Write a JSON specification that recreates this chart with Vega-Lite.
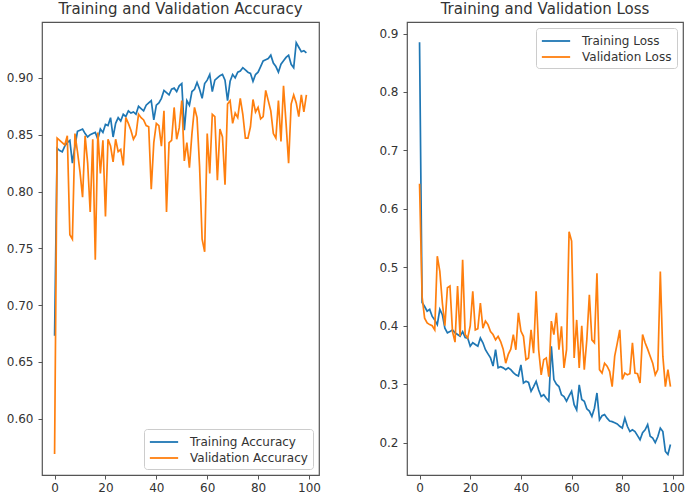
{
"$schema": "https://vega.github.io/schema/vega-lite/v6.json",
"padding": {"left": 5, "top": 1, "right": 5, "bottom": 0},
"config": {
 "font": "DejaVu Sans",
 "view": {"stroke": "#555", "strokeWidth": 1.2},
 "axis": {"grid": false, "domain": false, "tickColor": "#555", "tickSize": 4, "labelFontSize": 12, "labelColor": "#333", "labelPadding": 5, "labelFont": "DejaVu Sans"},
 "axisX": {"labelPadding": 3},
 "title": {"fontSize": 15, "fontWeight": "normal", "color": "#333", "offset": 5, "anchor": "middle", "font": "DejaVu Sans"},
 "legend": {"symbolType": "M-2,0H2", "symbolSize": 200, "symbolOffset": 7, "symbolStrokeWidth": 1.8, "labelFontSize": 12, "labelColor": "#333", "labelFont": "DejaVu Sans", "fillColor": "white", "strokeColor": "#ccc", "cornerRadius": 3, "padding": 5, "offset": 6, "labelOffset": 18, "rowPadding": 2}
},
"datasets": {"h": [
{"epoch":0,"ta":0.673,"va":0.569,"tl":0.885,"vl":0.643},
{"epoch":1,"ta":0.838,"va":0.847,"tl":0.44,"vl":0.45},
{"epoch":2,"ta":0.836,"va":0.845,"tl":0.433,"vl":0.413},
{"epoch":3,"ta":0.835,"va":0.843,"tl":0.425,"vl":0.405},
{"epoch":4,"ta":0.840,"va":0.841,"tl":0.428,"vl":0.402},
{"epoch":5,"ta":0.843,"va":0.849,"tl":0.416,"vl":0.400},
{"epoch":6,"ta":0.845,"va":0.762,"tl":0.410,"vl":0.393},
{"epoch":7,"ta":0.825,"va":0.758,"tl":0.402,"vl":0.519},
{"epoch":8,"ta":0.840,"va":0.851,"tl":0.428,"vl":0.493},
{"epoch":9,"ta":0.853,"va":0.835,"tl":0.419,"vl":0.439},
{"epoch":10,"ta":0.854,"va":0.817,"tl":0.396,"vl":0.400},
{"epoch":11,"ta":0.855,"va":0.795,"tl":0.388,"vl":0.465},
{"epoch":12,"ta":0.851,"va":0.849,"tl":0.390,"vl":0.468},
{"epoch":13,"ta":0.848,"va":0.825,"tl":0.393,"vl":0.390},
{"epoch":14,"ta":0.850,"va":0.782,"tl":0.388,"vl":0.372},
{"epoch":15,"ta":0.851,"va":0.846,"tl":0.385,"vl":0.468},
{"epoch":16,"ta":0.852,"va":0.740,"tl":0.382,"vl":0.382},
{"epoch":17,"ta":0.846,"va":0.852,"tl":0.390,"vl":0.513},
{"epoch":18,"ta":0.855,"va":0.816,"tl":0.380,"vl":0.385},
{"epoch":19,"ta":0.852,"va":0.845,"tl":0.379,"vl":0.379},
{"epoch":20,"ta":0.859,"va":0.778,"tl":0.365,"vl":0.400},
{"epoch":21,"ta":0.858,"va":0.846,"tl":0.371,"vl":0.459},
{"epoch":22,"ta":0.865,"va":0.840,"tl":0.368,"vl":0.393},
{"epoch":23,"ta":0.848,"va":0.826,"tl":0.365,"vl":0.395},
{"epoch":24,"ta":0.860,"va":0.846,"tl":0.379,"vl":0.439},
{"epoch":25,"ta":0.865,"va":0.835,"tl":0.371,"vl":0.396},
{"epoch":26,"ta":0.862,"va":0.837,"tl":0.359,"vl":0.408},
{"epoch":27,"ta":0.868,"va":0.823,"tl":0.352,"vl":0.402},
{"epoch":28,"ta":0.866,"va":0.865,"tl":0.345,"vl":0.390},
{"epoch":29,"ta":0.871,"va":0.860,"tl":0.331,"vl":0.385},
{"epoch":30,"ta":0.869,"va":0.854,"tl":0.359,"vl":0.376},
{"epoch":31,"ta":0.870,"va":0.846,"tl":0.328,"vl":0.382},
{"epoch":32,"ta":0.868,"va":0.850,"tl":0.330,"vl":0.373},
{"epoch":33,"ta":0.875,"va":0.868,"tl":0.328,"vl":0.360},
{"epoch":34,"ta":0.873,"va":0.865,"tl":0.325,"vl":0.336},
{"epoch":35,"ta":0.871,"va":0.863,"tl":0.328,"vl":0.351},
{"epoch":36,"ta":0.876,"va":0.858,"tl":0.325,"vl":0.360},
{"epoch":37,"ta":0.878,"va":0.857,"tl":0.320,"vl":0.385},
{"epoch":38,"ta":0.880,"va":0.802,"tl":0.316,"vl":0.359},
{"epoch":39,"ta":0.863,"va":0.843,"tl":0.314,"vl":0.422},
{"epoch":40,"ta":0.876,"va":0.860,"tl":0.333,"vl":0.391},
{"epoch":41,"ta":0.878,"va":0.858,"tl":0.302,"vl":0.382},
{"epoch":42,"ta":0.882,"va":0.840,"tl":0.305,"vl":0.342},
{"epoch":43,"ta":0.889,"va":0.871,"tl":0.303,"vl":0.345},
{"epoch":44,"ta":0.887,"va":0.782,"tl":0.288,"vl":0.393},
{"epoch":45,"ta":0.885,"va":0.843,"tl":0.296,"vl":0.353},
{"epoch":46,"ta":0.890,"va":0.845,"tl":0.305,"vl":0.459},
{"epoch":47,"ta":0.891,"va":0.874,"tl":0.290,"vl":0.359},
{"epoch":48,"ta":0.888,"va":0.846,"tl":0.279,"vl":0.316},
{"epoch":49,"ta":0.893,"va":0.856,"tl":0.282,"vl":0.342},
{"epoch":50,"ta":0.895,"va":0.880,"tl":0.276,"vl":0.345},
{"epoch":51,"ta":0.854,"va":0.827,"tl":0.271,"vl":0.313},
{"epoch":52,"ta":0.880,"va":0.843,"tl":0.365,"vl":0.408},
{"epoch":53,"ta":0.876,"va":0.821,"tl":0.308,"vl":0.385},
{"epoch":54,"ta":0.888,"va":0.851,"tl":0.300,"vl":0.422},
{"epoch":55,"ta":0.890,"va":0.874,"tl":0.296,"vl":0.359},
{"epoch":56,"ta":0.896,"va":0.865,"tl":0.282,"vl":0.399},
{"epoch":57,"ta":0.890,"va":0.822,"tl":0.279,"vl":0.328},
{"epoch":58,"ta":0.882,"va":0.758,"tl":0.271,"vl":0.359},
{"epoch":59,"ta":0.895,"va":0.747,"tl":0.280,"vl":0.561},
{"epoch":60,"ta":0.898,"va":0.851,"tl":0.288,"vl":0.545},
{"epoch":61,"ta":0.903,"va":0.816,"tl":0.265,"vl":0.345},
{"epoch":62,"ta":0.888,"va":0.868,"tl":0.256,"vl":0.410},
{"epoch":63,"ta":0.898,"va":0.866,"tl":0.299,"vl":0.328},
{"epoch":64,"ta":0.900,"va":0.810,"tl":0.274,"vl":0.400},
{"epoch":65,"ta":0.902,"va":0.855,"tl":0.271,"vl":0.325},
{"epoch":66,"ta":0.903,"va":0.848,"tl":0.258,"vl":0.376},
{"epoch":67,"ta":0.898,"va":0.806,"tl":0.254,"vl":0.453},
{"epoch":68,"ta":0.880,"va":0.877,"tl":0.245,"vl":0.376},
{"epoch":69,"ta":0.897,"va":0.880,"tl":0.259,"vl":0.371},
{"epoch":70,"ta":0.903,"va":0.860,"tl":0.285,"vl":0.490},
{"epoch":71,"ta":0.900,"va":0.869,"tl":0.239,"vl":0.325},
{"epoch":72,"ta":0.905,"va":0.865,"tl":0.246,"vl":0.319},
{"epoch":73,"ta":0.906,"va":0.882,"tl":0.248,"vl":0.336},
{"epoch":74,"ta":0.909,"va":0.868,"tl":0.242,"vl":0.331},
{"epoch":75,"ta":0.907,"va":0.847,"tl":0.237,"vl":0.322},
{"epoch":76,"ta":0.905,"va":0.847,"tl":0.236,"vl":0.296},
{"epoch":77,"ta":0.904,"va":0.857,"tl":0.234,"vl":0.348},
{"epoch":78,"ta":0.897,"va":0.881,"tl":0.232,"vl":0.370},
{"epoch":79,"ta":0.903,"va":0.870,"tl":0.228,"vl":0.393},
{"epoch":80,"ta":0.905,"va":0.874,"tl":0.225,"vl":0.308},
{"epoch":81,"ta":0.910,"va":0.864,"tl":0.242,"vl":0.319},
{"epoch":82,"ta":0.915,"va":0.866,"tl":0.228,"vl":0.316},
{"epoch":83,"ta":0.916,"va":0.889,"tl":0.219,"vl":0.318},
{"epoch":84,"ta":0.917,"va":0.880,"tl":0.222,"vl":0.371},
{"epoch":85,"ta":0.920,"va":0.871,"tl":0.219,"vl":0.319},
{"epoch":86,"ta":0.913,"va":0.851,"tl":0.212,"vl":0.318},
{"epoch":87,"ta":0.910,"va":0.847,"tl":0.205,"vl":0.302},
{"epoch":88,"ta":0.905,"va":0.880,"tl":0.217,"vl":0.385},
{"epoch":89,"ta":0.912,"va":0.844,"tl":0.222,"vl":0.371},
{"epoch":90,"ta":0.915,"va":0.893,"tl":0.231,"vl":0.360},
{"epoch":91,"ta":0.918,"va":0.860,"tl":0.211,"vl":0.348},
{"epoch":92,"ta":0.920,"va":0.825,"tl":0.208,"vl":0.336},
{"epoch":93,"ta":0.912,"va":0.877,"tl":0.200,"vl":0.316},
{"epoch":94,"ta":0.909,"va":0.885,"tl":0.210,"vl":0.325},
{"epoch":95,"ta":0.931,"va":0.878,"tl":0.225,"vl":0.493},
{"epoch":96,"ta":0.927,"va":0.866,"tl":0.219,"vl":0.348},
{"epoch":97,"ta":0.923,"va":0.885,"tl":0.185,"vl":0.296},
{"epoch":98,"ta":0.924,"va":0.870,"tl":0.180,"vl":0.325},
{"epoch":99,"ta":0.922,"va":0.885,"tl":0.197,"vl":0.296}
]},
"spacing": 56,
"resolve": {"scale": {"color": "independent", "x": "independent", "y": "independent"}, "legend": {"color": "independent"}},
"hconcat": [
 {
  "width": 277, "height": 453,
  "title": "Training and Validation Accuracy",
  "data": {"name": "h"},
  "transform": [{"fold": ["ta", "va"], "as": ["series", "value"]}],
  "mark": {"type": "line", "clip": true, "strokeWidth": 1.7},
  "encoding": {
   "x": {"field": "epoch", "type": "quantitative", "scale": {"domain": [-4.95, 103.95], "nice": false, "zero": false}, "axis": {"values": [0, 20, 40, 60, 80, 100], "title": null}},
   "y": {"field": "value", "type": "quantitative", "scale": {"domain": [0.5505, 0.9492], "nice": false, "zero": false}, "axis": {"values": [0.6, 0.65, 0.7, 0.75, 0.8, 0.85, 0.9], "format": ".2f", "title": null}},
   "color": {"field": "series", "type": "nominal", "scale": {"domain": ["ta", "va"], "range": ["#1f77b4", "#ff7f0e"]}, "legend": {"orient": "bottom-right", "title": null, "labelExpr": "datum.label == 'ta' ? 'Training Accuracy' : 'Validation Accuracy'"}}
  }
 },
 {
  "width": 276, "height": 453,
  "title": "Training and Validation Loss",
  "data": {"name": "h"},
  "transform": [{"fold": ["tl", "vl"], "as": ["series", "value"]}],
  "mark": {"type": "line", "clip": true, "strokeWidth": 1.7},
  "encoding": {
   "x": {"field": "epoch", "type": "quantitative", "scale": {"domain": [-4.95, 103.95], "nice": false, "zero": false}, "axis": {"values": [0, 20, 40, 60, 80, 100], "title": null}},
   "y": {"field": "value", "type": "quantitative", "scale": {"domain": [0.1447, 0.9197], "nice": false, "zero": false}, "axis": {"values": [0.2, 0.3, 0.4, 0.5, 0.6, 0.7, 0.8, 0.9], "format": ".1f", "title": null}},
   "color": {"field": "series", "type": "nominal", "scale": {"domain": ["tl", "vl"], "range": ["#1f77b4", "#ff7f0e"]}, "legend": {"orient": "top-right", "title": null, "labelExpr": "datum.label == 'tl' ? 'Training Loss' : 'Validation Loss'"}}
  }
 }
]
}
